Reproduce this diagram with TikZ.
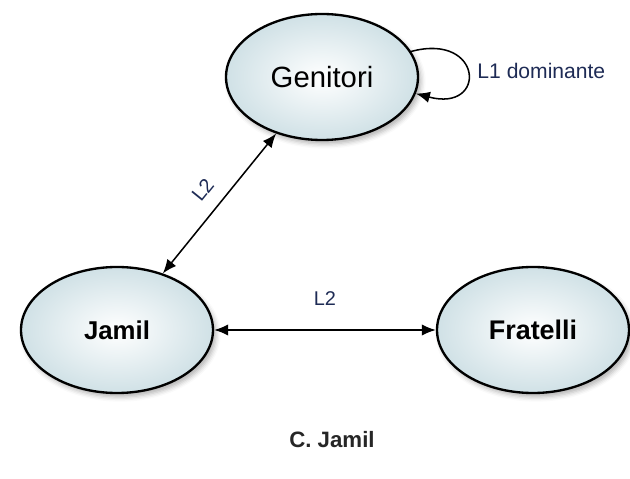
\documentclass[tikz,border=0pt]{standalone}
\usepackage{fontspec}
\setmainfont{Liberation Sans}
\usetikzlibrary{shapes.geometric,arrows.meta,shadows.blur}

\definecolor{ellblue}{HTML}{D0E1E6}
\definecolor{labelblue}{HTML}{1E2B55}

\begin{document}
\begin{tikzpicture}
		\tikzstyle{every node}=[font=\fontsize{18pt}{22pt}\selectfont]
		\tikzstyle{person}=[ellipse, draw, line width=2pt, minimum width=5.76cm, minimum height=3.78cm, inner sep=0pt,
			shading=radial, inner color=white, outer color=ellblue,
			blur shadow={shadow xshift=0.09cm, shadow yshift=-0.12cm, shadow blur radius=0.14cm, shadow opacity=30}]
		\tikzstyle{link}=[line width=1.3pt, {Latex[length=0.42cm,width=0.34cm]}-{Latex[length=0.42cm,width=0.34cm]}]
		\tikzstyle{lang}=[text=labelblue, font=\fontsize{17pt}{20pt}\selectfont]
		
		\useasboundingbox (0,0) rectangle (18.9,14.34);
		
		% the three groups
		\node[person, font=\fontsize{25pt}{30pt}\selectfont] (genitori) at (9.66,12.03) {Genitori};
		\node[person, font=\bfseries\fontsize{22pt}{26pt}\selectfont] (jamil) at (3.51,4.44) {Jamil};
		\node[person, font=\bfseries\fontsize{23pt}{27pt}\selectfont] (fratelli) at (15.99,4.44) {Fratelli};
		
		% languages spoken between them
		\draw[link] (jamil) -- (genitori) node[lang, midway, sloped, above=0.3cm]{L2};
		\draw[link] (jamil) -- (fratelli) node[lang, midway, above=0.6cm]{L2};
		\draw[line width=1.3pt, -{Latex[length=0.42cm,width=0.34cm]}] (genitori.16) to[out=15, in=-15, looseness=4.5] (genitori.-10);
		\node[lang, anchor=west, font=\fontsize{18pt}{22pt}\selectfont] (dominante) at (14.2,12.2) {L1 dominante};
		
		\node[text=black!85, font=\bfseries\fontsize{19pt}{23pt}\selectfont] (caption) at (9.96,1.14) {C. Jamil};
		
	\end{tikzpicture}
\end{document}
